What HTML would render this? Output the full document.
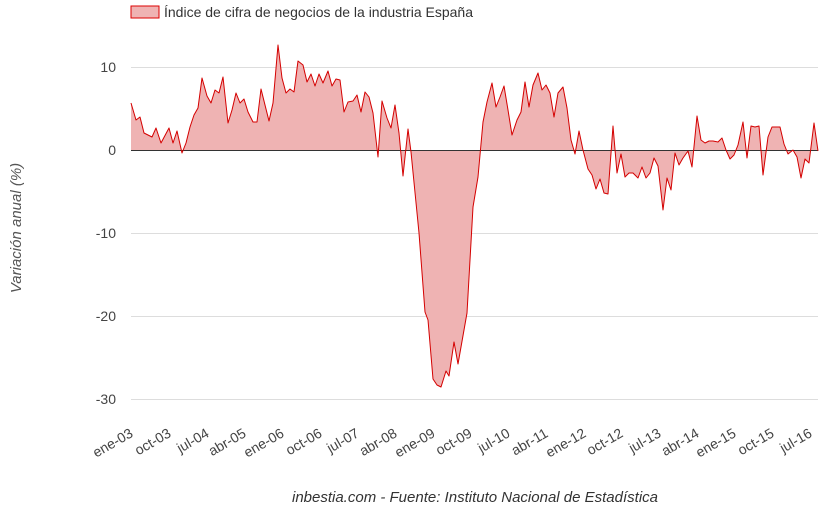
<!DOCTYPE html>
<html><head><meta charset="utf-8"><style>
body{margin:0;background:#fff;width:840px;height:518px;overflow:hidden;font-family:"Liberation Sans",sans-serif}
</style></head><body>
<svg width="840" height="518" xmlns="http://www.w3.org/2000/svg" font-family="Liberation Sans, sans-serif">
<rect x="131" y="6" width="28" height="12" fill="#efb3b3" stroke="#d00" stroke-width="1"/>
<text x="164" y="17" font-size="14" fill="#333">Índice de cifra de negocios de la industria España</text>
<g stroke="#ddd" stroke-width="1">
<line x1="131" y1="67.5" x2="818" y2="67.5"/>
<line x1="131" y1="233.5" x2="818" y2="233.5"/>
<line x1="131" y1="316.5" x2="818" y2="316.5"/>
<line x1="131" y1="399.5" x2="818" y2="399.5"/>
</g>
<g font-size="14" fill="#444" text-anchor="end">
<text x="116" y="72">10</text><text x="116" y="155">0</text><text x="116" y="238">-10</text><text x="116" y="321">-20</text><text x="116" y="404">-30</text>
</g>
<text transform="translate(21,228) rotate(-90)" font-size="15" fill="#555" font-style="italic" text-anchor="middle">Variación anual (%)</text>
<polygon fill="#efb3b3" stroke="none" points="131,150 131,103 136,120 140,117 144,133 152,137 156,128 161,143 169,128 173,143 177,131 182,153 186,143 190,127 194,115 198,108 202,78 207,96 211,103 215,90 219,93 223,77 228,123 232,110 236,93 240,103 244,99 248,112 253,122 257,122 261,89 265,105 269,121 273,103 278,45 282,78 286,93 290,89 294,92 298,61 303,65 307,82 311,74 315,86 319,74 323,83 328,71 332,86 336,79 340,80 344,112 348,102 353,101 357,95 361,112 365,92 369,97 373,113 378,157 382,101 387,118 391,128 395,105 399,133 403,176 408,129 411,152 419,233 425,312 428,320 433,379 437,385 441,387 446,371 449,376 454,342 458,364 467,313 473,207 478,177 483,122 487,102 492,83 496,107 500,97 504,86 508,110 512,135 517,120 521,112 525,82 529,107 533,85 538,73 542,90 546,85 550,93 554,117 558,93 563,87 567,108 571,140 575,154 579,131 583,150 588,169 592,175 596,189 600,179 604,193 608,194 613,126 617,173 621,154 625,177 629,173 633,173 638,178 642,167 646,178 650,173 654,158 658,166 663,210 667,178 671,190 675,153 679,165 683,158 688,151 692,167 697,116 701,140 705,143 709,141 713,141 718,142 722,138 726,150 730,159 734,155 738,145 743,122 747,158 751,126 755,127 759,126 763,175 768,137 772,127 776,127 780,127 784,144 788,154 793,150 797,157 801,178 805,159 809,163 814,123 818,151 818,150"/>
<line x1="131" y1="150.5" x2="818" y2="150.5" stroke="#333" stroke-width="1"/>
<polyline fill="none" stroke="#d40000" stroke-width="1" stroke-linejoin="round" points="131,103 136,120 140,117 144,133 152,137 156,128 161,143 169,128 173,143 177,131 182,153 186,143 190,127 194,115 198,108 202,78 207,96 211,103 215,90 219,93 223,77 228,123 232,110 236,93 240,103 244,99 248,112 253,122 257,122 261,89 265,105 269,121 273,103 278,45 282,78 286,93 290,89 294,92 298,61 303,65 307,82 311,74 315,86 319,74 323,83 328,71 332,86 336,79 340,80 344,112 348,102 353,101 357,95 361,112 365,92 369,97 373,113 378,157 382,101 387,118 391,128 395,105 399,133 403,176 408,129 411,152 419,233 425,312 428,320 433,379 437,385 441,387 446,371 449,376 454,342 458,364 467,313 473,207 478,177 483,122 487,102 492,83 496,107 500,97 504,86 508,110 512,135 517,120 521,112 525,82 529,107 533,85 538,73 542,90 546,85 550,93 554,117 558,93 563,87 567,108 571,140 575,154 579,131 583,150 588,169 592,175 596,189 600,179 604,193 608,194 613,126 617,173 621,154 625,177 629,173 633,173 638,178 642,167 646,178 650,173 654,158 658,166 663,210 667,178 671,190 675,153 679,165 683,158 688,151 692,167 697,116 701,140 705,143 709,141 713,141 718,142 722,138 726,150 730,159 734,155 738,145 743,122 747,158 751,126 755,127 759,126 763,175 768,137 772,127 776,127 780,127 784,144 788,154 793,150 797,157 801,178 805,159 809,163 814,123 818,151"/>
<g font-size="14" fill="#444" text-anchor="end">
<text transform="translate(134,436) rotate(-30)">ene-03</text>
<text transform="translate(172,436) rotate(-30)">oct-03</text>
<text transform="translate(210,436) rotate(-30)">jul-04</text>
<text transform="translate(247,436) rotate(-30)">abr-05</text>
<text transform="translate(285,436) rotate(-30)">ene-06</text>
<text transform="translate(323,436) rotate(-30)">oct-06</text>
<text transform="translate(360,436) rotate(-30)">jul-07</text>
<text transform="translate(398,436) rotate(-30)">abr-08</text>
<text transform="translate(436,436) rotate(-30)">ene-09</text>
<text transform="translate(473,436) rotate(-30)">oct-09</text>
<text transform="translate(511,436) rotate(-30)">jul-10</text>
<text transform="translate(549,436) rotate(-30)">abr-11</text>
<text transform="translate(587,436) rotate(-30)">ene-12</text>
<text transform="translate(624,436) rotate(-30)">oct-12</text>
<text transform="translate(662,436) rotate(-30)">jul-13</text>
<text transform="translate(700,436) rotate(-30)">abr-14</text>
<text transform="translate(737,436) rotate(-30)">ene-15</text>
<text transform="translate(775,436) rotate(-30)">oct-15</text>
<text transform="translate(813,436) rotate(-30)">jul-16</text>
</g>
<text x="475" y="502" font-size="15" fill="#333" font-style="italic" text-anchor="middle">inbestia.com - Fuente: Instituto Nacional de Estadística</text>
</svg>
</body></html>
